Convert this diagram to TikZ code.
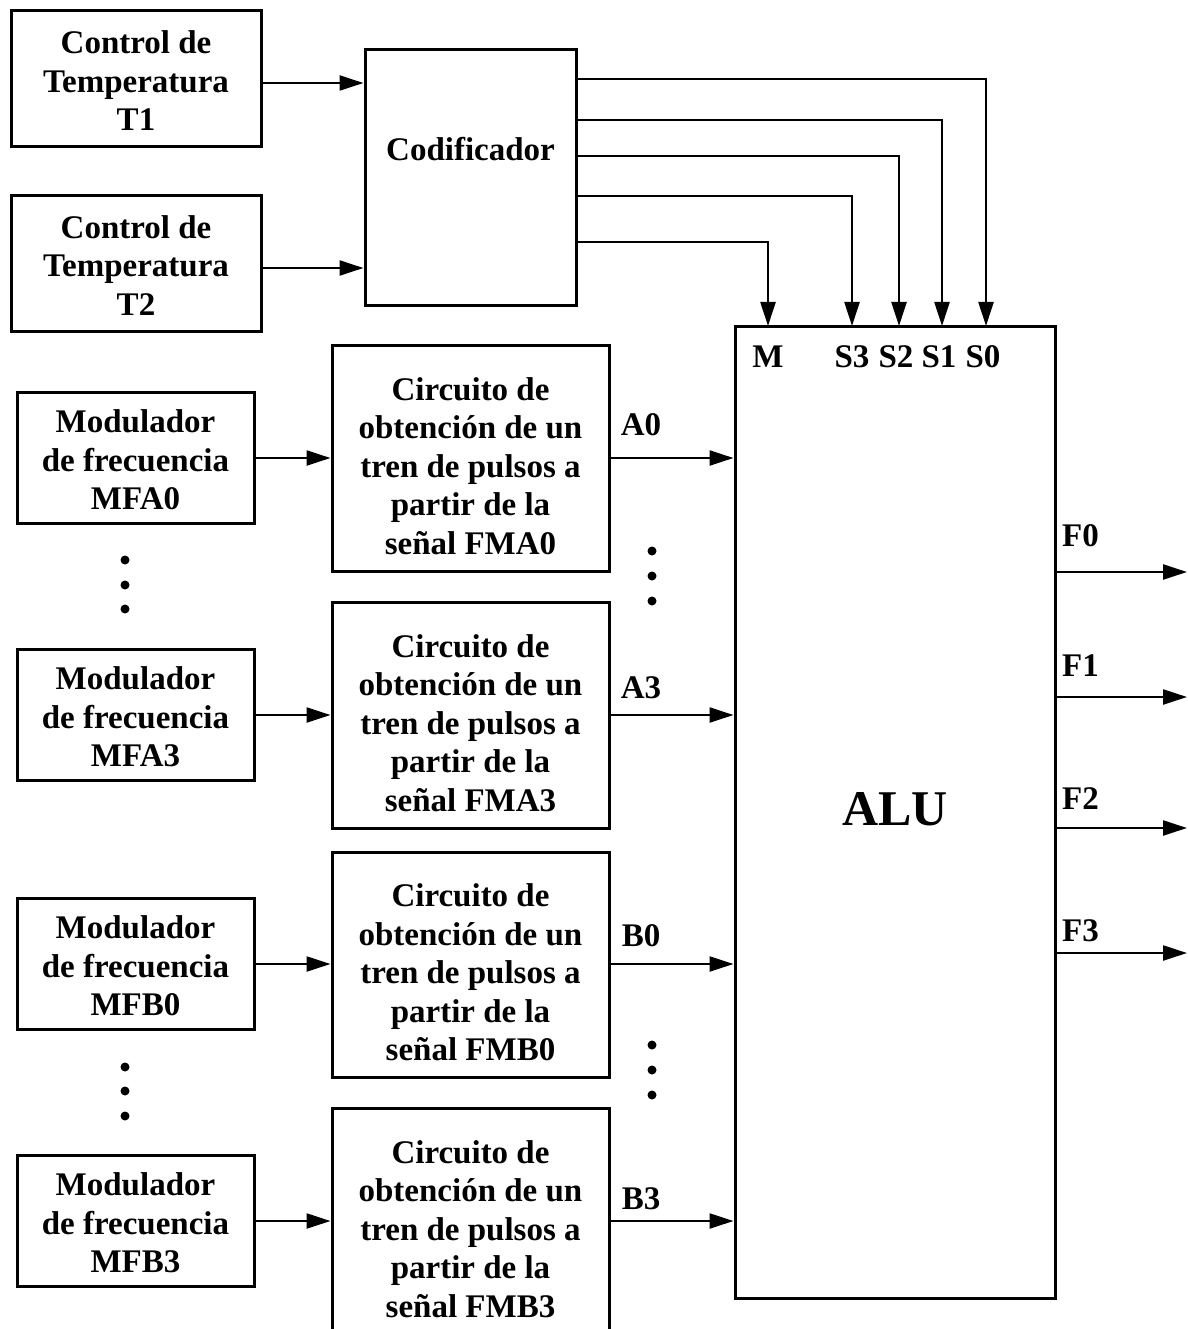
\documentclass[tikz,border=0pt]{standalone}
\usepackage{fontspec}
\setmainfont{Liberation Serif}
\usetikzlibrary{arrows.meta,calc}
\begin{document}
\begin{tikzpicture}[x=1pt,y=-1pt,
  txt/.style={font=\bfseries\fontsize{33}{38.5}\selectfont,align=center,inner sep=0pt},
  blk/.style={txt,draw,line width=3pt},
  arr/.style={line width=2.3pt,-{Triangle[length=24pt,width=15pt]}},
  dotf/.style={fill=black}]
\useasboundingbox (0,0) rectangle (1187,1329);
\clip (0,0) rectangle (1187,1329);
% temperature controls and encoder
\node[blk,minimum width=250pt,minimum height=136pt] (t1) at (136,79) {};
\node[txt] (t1t) at (136,81) {Control de\\Temperatura\\T1};
\node[blk,minimum width=250pt,minimum height=135pt] (t2) at (136,263.5) {};
\node[txt] (t2t) at (136,265.5) {Control de\\Temperatura\\T2};
\node[blk,minimum width=211pt,minimum height=255pt] (cod) at (470.5,177.5) {};
\node[txt] (codl) at (470.5,149) {Codificador};
% ALU
\node[blk,minimum width=320pt,minimum height=972pt] (alu) at (895,812) {};
\node[txt,font=\bfseries\fontsize{50}{55}\selectfont] (alul) at (895,809) {ALU};
\node[txt] (lm) at (768,357) {M};
\node[txt] (ls3) at (852,357) {S3};
\node[txt] (ls2) at (896,357) {S2};
\node[txt] (ls1) at (939,357) {S1};
\node[txt] (ls0) at (983,357) {S0};
\coordinate (pM) at (768,326);
\coordinate (pS3) at (852,326);
\coordinate (pS2) at (899,326);
\coordinate (pS1) at (942,326);
\coordinate (pS0) at (986,326);
% modulators
\node[blk,minimum width=237pt,minimum height=131pt] (ma0) at (135.5,458) {};
\node[txt] (ma0t) at (135.5,460) {Modulador\\de frecuencia\\MFA0};
\node[blk,minimum width=237pt,minimum height=131pt] (ma3) at (135.5,715) {};
\node[txt] (ma3t) at (135.5,717) {Modulador\\de frecuencia\\MFA3};
\node[blk,minimum width=237pt,minimum height=131pt] (mb0) at (135.5,964) {};
\node[txt] (mb0t) at (135.5,966) {Modulador\\de frecuencia\\MFB0};
\node[blk,minimum width=237pt,minimum height=131pt] (mb3) at (135.5,1221) {};
\node[txt] (mb3t) at (135.5,1223) {Modulador\\de frecuencia\\MFB3};
% circuits
\node[blk,minimum width=277pt,minimum height=226pt] (ca0) at (470.5,458) {};
\node[txt] (ca0t) at (470.5,466) {Circuito de\\obtención de un\\tren de pulsos a\\partir de la\\señal FMA0};
\node[blk,minimum width=277pt,minimum height=226pt] (ca3) at (470.5,715) {};
\node[txt] (ca3t) at (470.5,723) {Circuito de\\obtención de un\\tren de pulsos a\\partir de la\\señal FMA3};
\node[blk,minimum width=277pt,minimum height=225pt] (cb0) at (470.5,964.5) {};
\node[txt] (cb0t) at (470.5,972.5) {Circuito de\\obtención de un\\tren de pulsos a\\partir de la\\señal FMB0};
\node[blk,minimum width=277pt,minimum height=228pt] (cb3) at (470.5,1222) {};
\node[txt] (cb3t) at (470.5,1229) {Circuito de\\obtención de un\\tren de pulsos a\\partir de la\\señal FMB3};
% signal labels
\node[txt] (la0) at (641,425) {A0};
\node[txt] (la3) at (641,688) {A3};
\node[txt] (lb0) at (641,936) {B0};
\node[txt] (lb3) at (641,1199) {B3};
\node[txt,anchor=west] (lf0) at (1062,536) {F0};
\node[txt,anchor=west] (lf1) at (1062,666) {F1};
\node[txt,anchor=west] (lf2) at (1062,799) {F2};
\node[txt,anchor=west] (lf3) at (1062,931) {F3};
% output end points
\coordinate (o0) at (1187,572);
\coordinate (o1) at (1187,697);
\coordinate (o2) at (1187,828);
\coordinate (o3) at (1187,953);
% connectors
\draw[arr] (t1.east |- 0,83) -- (cod.west |- 0,83);
\draw[arr] (t2.east |- 0,268) -- (cod.west |- 0,268);
\draw[arr] (cod.east |- 0,79) -| (pS0);
\draw[arr] (cod.east |- 0,120) -| (pS1);
\draw[arr] (cod.east |- 0,156) -| (pS2);
\draw[arr] (cod.east |- 0,196) -| (pS3);
\draw[arr] (cod.east |- 0,242) -| (pM);
\foreach \m/\c in {ma0/ca0,ma3/ca3,mb0/cb0,mb3/cb3}{
  \draw[arr] (\m.east) -- (\m.east -| \c.west);
  \draw[arr] (\m.east -| \c.east) -- (\m.east -| alu.west);
}
\foreach \o in {o0,o1,o2,o3}{
  \draw[arr] (\o -| alu.east) -- (\o);
}
% ellipsis dots
\foreach \y in {560,585,609,1067,1091,1116}{\fill[dotf] (125,\y) circle (4.5pt);}
\foreach \y in {551,576,601,1045,1070,1095}{\fill[dotf] (652,\y) circle (4.5pt);}
\end{tikzpicture}
\end{document}
